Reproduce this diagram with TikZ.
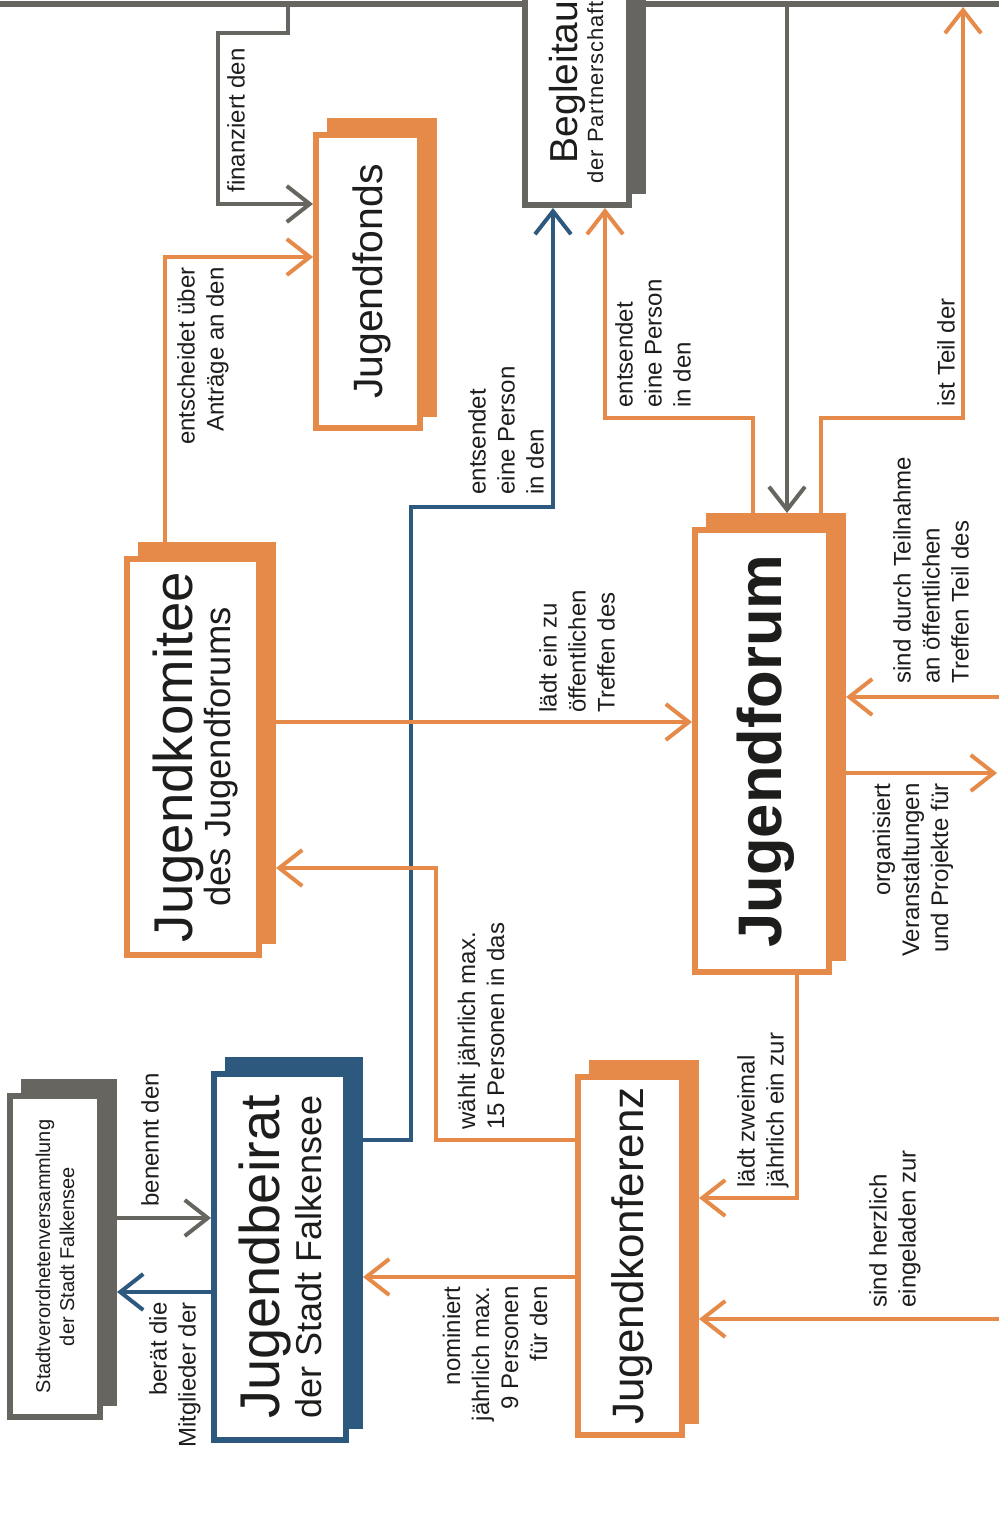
\documentclass[tikz,border=0pt]{standalone}
\usepackage{fontspec}
\setmainfont{Liberation Sans}
\usetikzlibrary{arrows.meta}

\definecolor{jorange}{RGB}{230,138,74}
\definecolor{jblue}{RGB}{44,89,125}
\definecolor{jgray}{RGB}{103,101,96}
\definecolor{jtext}{RGB}{29,29,27}

\tikzset{
	boxframe/.style={draw=#1, line width=3pt, fill=white, inner sep=0pt},
	boxshadow/.style={fill=#1, draw=none, inner sep=0pt, outer sep=0pt},
	boxtext/.style={rotate=90, align=center, inner sep=0pt, text=jtext},
	lbl/.style={rotate=90, inner sep=0pt, text=jtext, font=\fontsize{12}{14.5}\selectfont},
	conn/.style={draw=#1, line width=2pt, -{Straight Barb[length=11.5pt, width=18pt]}},
}

\begin{document}
\begin{tikzpicture}[x=0.5pt, y=-0.5pt]
			\useasboundingbox (0,0) rectangle (999,1513);
			\clip (0,0) rectangle (999,1513);

			\node[boxframe=jgray, minimum width=550pt, minimum height=152pt] (top) at (500,-148) {};

			\node[boxshadow=jgray, minimum width=55pt, minimum height=205.5pt] (begleitsh) at (591,-11.5) {};
			\node[boxframe=jgray, minimum width=52pt, minimum height=202.5pt] (begleit) at ([shift={(-7pt,-7pt)}]begleitsh) {};

			\node[boxshadow=jorange, minimum width=55pt, minimum height=149.5pt] (fondssh) at (382,267.5) {};
			\node[boxframe=jorange, minimum width=52pt, minimum height=146.5pt] (fonds) at ([shift={(-7pt,-7pt)}]fondssh) {};

			\node[boxshadow=jorange, minimum width=69pt, minimum height=201pt] (komiteesh) at (207,743) {};
			\node[boxframe=jorange, minimum width=66pt, minimum height=198pt] (komitee) at ([shift={(-7pt,-7pt)}]komiteesh) {};

			\node[boxshadow=jorange, minimum width=70pt, minimum height=224pt] (forumsh) at (776,737) {};
			\node[boxframe=jorange, minimum width=67pt, minimum height=221pt] (forum) at ([shift={(-7pt,-7pt)}]forumsh) {};

			\node[boxshadow=jgray, minimum width=48pt, minimum height=163.5pt] (stadtvsh) at (69,1242.5) {};
			\node[boxframe=jgray, minimum width=45pt, minimum height=160.5pt] (stadtv) at ([shift={(-7pt,-7pt)}]stadtvsh) {};

			\node[boxshadow=jblue, minimum width=69pt, minimum height=186pt] (beiratsh) at (294,1243) {};
			\node[boxframe=jblue, minimum width=66pt, minimum height=183pt] (beirat) at ([shift={(-7pt,-7pt)}]beiratsh) {};

			\node[boxshadow=jorange, minimum width=55pt, minimum height=182pt] (konferenzsh) at (644,1242) {};
			\node[boxframe=jorange, minimum width=52pt, minimum height=179pt] (konferenz) at ([shift={(-7pt,-7pt)}]konferenzsh) {};

			\node[boxtext, font=\fontsize{11}{13}\selectfont\addfontfeatures{LetterSpace=4}] (begleittext) at (576,11.5) {{\fontsize{19.5}{20}\selectfont\addfontfeatures{LetterSpace=0} Begleitausschuss}\\der Partnerschaft für Demokratie};
			\node[boxtext, font=\fontsize{20.5}{22}\selectfont] (fondstext) at ([xshift=1.75pt]fonds) {Jugendfonds};
			\node[boxtext, font=\fontsize{18.2}{19}\selectfont] (komiteetext) at ([xshift=1pt]komitee) {{\fontsize{27.3}{28}\selectfont Jugendkomitee}\\des Jugendforums};
			\node[boxtext, font=\fontsize{30.75}{32}\selectfont\bfseries] (forumtext) at ([xshift=2pt]forum) {Jugendforum};
			\node[boxtext, font=\fontsize{10}{12}\selectfont] (stadtvtext) at (stadtv) {Stadtverordnetenversammlung\\der Stadt Falkensee};
			\node[boxtext, font=\fontsize{18}{21}\selectfont] (beirattext) at (beirat) {{\fontsize{28}{29}\selectfont Jugendbeirat}\\der Stadt Falkensee};
			\node[boxtext, font=\fontsize{22}{24}\selectfont] (konferenztext) at ([xshift=1pt]konferenz) {Jugendkonferenz};

			\coordinate (rand-treffen) at (999,697);
			\coordinate (rand-projekte) at (997,773);
			\coordinate (rand-konferenz) at (999,1319);

			\draw[conn=jblue] (beiratsh.east |- 0,1140) -| (411,507) -| (begleit.south -| 553,0);
			\draw[conn=jblue] (beirat.west |- 0,1292) -- (stadtvsh.east |- 0,1292);
			\draw[conn=jgray] (top.south -| 288,0) |- (218,33) |- (fonds.west |- 0,204);
			\draw[conn=jgray] (top.south -| 787,0) -- (forumsh.north -| 787,0);
			\draw[conn=jgray] (stadtvsh.east |- 0,1218) -- (beirat.west |- 0,1218);
			\draw[conn=jorange] (komiteesh.north -| 165,0) |- (fonds.west |- 0,257);
			\draw[conn=jorange] (forumsh.north -| 821,0) |- (963,418) -- (top.south -| 963,0);
			\draw[conn=jorange] (forumsh.north -| 753,0) |- (605,418) -- (begleit.south -| 605,0);
			\draw[conn=jorange] (komiteesh.east |- 0,722) -- (forum.west |- 0,722);
			\draw[conn=jorange] (konferenz.west |- 0,1140) -| (436,868) -- (komiteesh.east |- 0,868);
			\draw[conn=jorange] (konferenz.west |- 0,1277) -- (beiratsh.east |- 0,1277);
			\draw[conn=jorange] (forum.south -| 797,0) |- (konferenzsh.east |- 0,1198);
			\draw[conn=jorange] (rand-konferenz) -- (konferenzsh.east |- rand-konferenz);
			\draw[conn=jorange] (rand-treffen) -- (forumsh.east |- rand-treffen);
			\draw[conn=jorange] (forumsh.east |- rand-projekte) -- (rand-projekte);

			\node[lbl, anchor=west] (l-finanziert) at (236,193) {finanziert den};
			\node[lbl, anchor=east, align=right] (l-antraege) at (203,267) {entscheidet über\\Anträge an den};
			\node[lbl, anchor=west] (l-teil) at (946,407) {ist Teil der};
			\node[lbl, anchor=west, align=left] (l-entsendet-forum) at (653,408) {entsendet\\eine Person\\in den};
			\node[lbl, anchor=west, align=left] (l-entsendet-beirat) at (506,495) {entsendet\\eine Person\\in den};
			\node[lbl, anchor=west, align=left] (l-einladung) at (577,713) {lädt ein zu\\öffentlichen\\Treffen des};
			\node[lbl, anchor=west, align=left] (l-teilnahme) at (931,684) {sind durch Teilnahme\\an öffentlichen\\Treffen Teil des};
			\node[lbl, anchor=east, align=right] (l-organisiert) at (913,783) {organisiert\\Veranstaltungen\\und Projekte für};
			\node[lbl, anchor=west, align=left] (l-waehlt) at (481,1130) {wählt jährlich max.\\15 Personen in das};
			\node[lbl, anchor=west, align=left] (l-zweimal) at (763,1188) {lädt zweimal\\jährlich ein zur};
			\node[lbl, anchor=west, align=left] (l-herzlich) at (895,1308) {sind herzlich\\eingeladen zur};
			\node[lbl, anchor=west] (l-benennt) at (150,1207) {benennt den};
			\node[lbl, anchor=east, align=right] (l-beraet) at (175,1302) {berät die\\Mitglieder der};
			\node[lbl, anchor=east, align=right] (l-nominiert) at (495,1286) {nominiert\\jährlich max.\\9 Personen\\für den};
		\end{tikzpicture}
\end{document}
